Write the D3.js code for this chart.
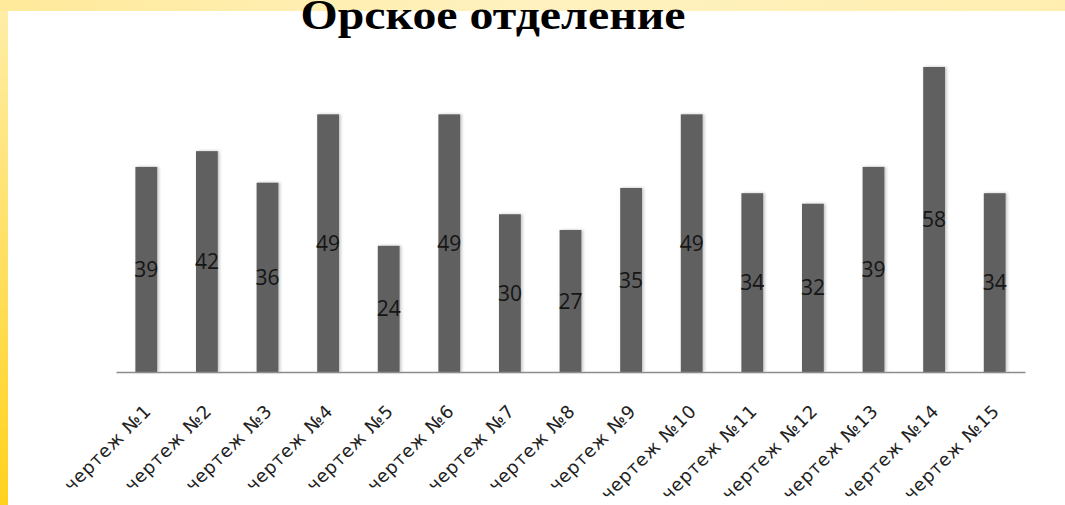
<!DOCTYPE html>
<html>
<head>
<meta charset="utf-8">
<script src="https://cdn.jsdelivr.net/npm/d3@7"></script>
<style>
    body { margin: 0; padding: 0; overflow: hidden; }
</style>
</head>
<body>
<div id="canvas"></div>
<script>

// data
const categories = ["чертеж №1", "чертеж №2", "чертеж №3", "чертеж №4", "чертеж №5",
    "чертеж №6", "чертеж №7", "чертеж №8", "чертеж №9", "чертеж №10",
    "чертеж №11", "чертеж №12", "чертеж №13", "чертеж №14", "чертеж №15"];
const values = [39, 42, 36, 49, 24, 49, 30, 27, 35, 49, 34, 32, 39, 58, 34];
const title = "Орское отделение";

drawChart();

function drawChart() {

    // dimensions
    const width = 1065;
    const height = 505;

    const canvas = d3.select("#canvas")
        .append("svg")
        .attr("width", width)
        .attr("height", height);

    // yellow frame
    const defs = canvas.append("defs");
    const grad = defs.append("linearGradient")
        .attr("id", "frame")
        .attr("x1", 0).attr("y1", 0).attr("x2", 0).attr("y2", 1);
    grad.append("stop").attr("offset", "0%").attr("stop-color", "#ffeeaa");
    grad.append("stop").attr("offset", "100%").attr("stop-color", "#ffd21c");

    const gradTop = defs.append("linearGradient")
        .attr("id", "frameTop")
        .attr("x1", 0).attr("y1", 0).attr("x2", 1).attr("y2", 0);
    gradTop.append("stop").attr("offset", "0%").attr("stop-color", "#ffe99a");
    gradTop.append("stop").attr("offset", "50%").attr("stop-color", "#fff2c0");
    gradTop.append("stop").attr("offset", "100%").attr("stop-color", "#ffeeb0");

    // soft shadow for bars
    const shadow = defs.append("filter").attr("id", "shadow")
        .attr("x", "-30%").attr("y", "-5%").attr("width", "160%").attr("height", "110%");
    shadow.append("feDropShadow")
        .attr("dx", 1.5).attr("dy", 0).attr("stdDeviation", 1.5)
        .attr("flood-color", "#000").attr("flood-opacity", 0.25);

    canvas.append("rect")
        .attr("width", width).attr("height", height)
        .attr("fill", "url(#frame)");
    canvas.append("rect")
        .attr("width", width).attr("height", 11)
        .attr("fill", "url(#frameTop)");
    canvas.append("rect")
        .attr("x", 8).attr("y", 11)
        .attr("width", width - 8).attr("height", height - 11)
        .attr("fill", "#ffffff");

    // title (top is cut by the frame, as in the slide)
    canvas.append("text")
        .attr("x", 493)
        .attr("y", 29)
        .attr("text-anchor", "middle")
        .attr("font-family", "Liberation Serif, Times New Roman, serif")
        .attr("font-weight", "bold")
        .attr("font-size", 42)
        .attr("textLength", 385)
        .attr("lengthAdjust", "spacingAndGlyphs")
        .attr("fill", "#000")
        .text(title);

    // scales
    const x = d3.scaleBand()
        .domain(categories)
        .range([116, 1025])
        .paddingInner(0.64)
        .paddingOuter(0.32);

    const y = d3.scaleLinear()
        .domain([0, 58])
        .range([372, 67]);

    // bars
    canvas.append("g")
        .selectAll("rect")
        .data(values)
        .join("rect")
        .attr("x", (d, i) => x(categories[i]))
        .attr("y", d => y(d))
        .attr("width", x.bandwidth())
        .attr("height", d => y(0) - y(d))
        .attr("fill", "#606060")
        .attr("filter", "url(#shadow)");

    // value labels in the middle of each bar
    canvas.append("g")
        .selectAll("text")
        .data(values)
        .join("text")
        .attr("x", (d, i) => x(categories[i]) + x.bandwidth() / 2)
        .attr("y", d => (y(d) + y(0)) / 2)
        .attr("dy", "0.36em")
        .attr("text-anchor", "middle")
        .attr("font-family", "Open Sans, sans-serif")
        .attr("font-size", 21)
        .attr("fill", "#151515")
        .text(d => d);

    // x axis
    const xAxis = canvas.append("g")
        .attr("transform", `translate(0, ${y(0)})`)
        .call(d3.axisBottom(x).tickSize(0).tickPadding(0));

    xAxis.select(".domain")
        .attr("stroke", "#8c8c8c")
        .attr("stroke-width", 1.5);

    // rotated category labels
    xAxis.selectAll("text")
        .attr("font-family", "DejaVu Sans, sans-serif")
        .attr("font-size", 18)
        .attr("letter-spacing", 0.8)
        .attr("fill", "#222")
        .attr("text-anchor", "end")
        .attr("dy", 0)
        .attr("transform", "translate(6, 40) rotate(-45)");
}
</script>
</body>
</html>
